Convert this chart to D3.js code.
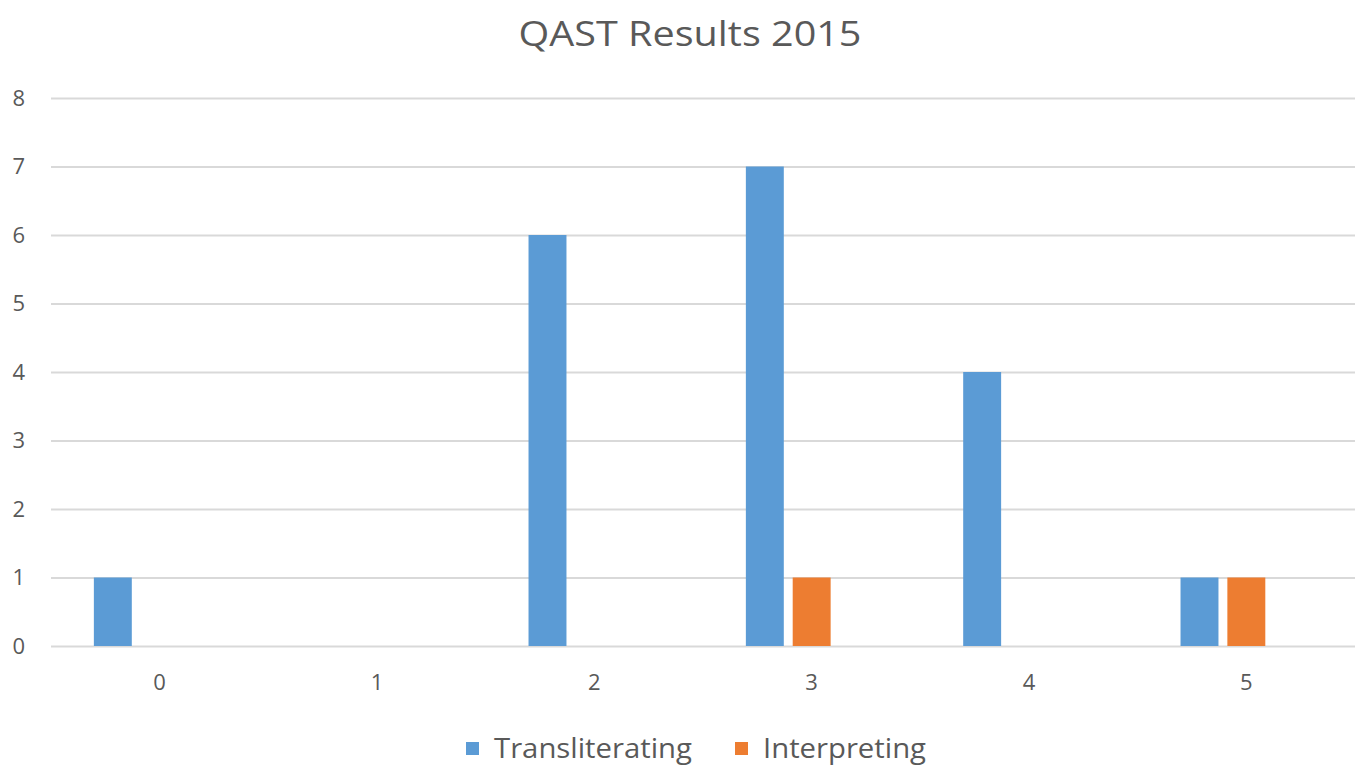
<!DOCTYPE html>
<html>
<head>
<meta charset="utf-8">
<script src="https://cdn.jsdelivr.net/npm/d3@7"></script>
<style>
  body { margin: 0; background: #fff; }
  svg text { font-family: "Open Sans", "Noto Sans", sans-serif; fill: #595959; }
</style>
</head>
<body>
<div id="chart"></div>
<script>
// chart data
const categories = ['0', '1', '2', '3', '4', '5'];
const transliterating = [1, 0, 6, 7, 4, 1];
const interpreting = [0, 0, 0, 1, 0, 1];
const seriesNames = ['Transliterating', 'Interpreting'];
const yTicks = [0, 1, 2, 3, 4, 5, 6, 7, 8];
// Excel reserves a third (empty) slot in each group, so bars sit left of centre
const slots = ['Transliterating', 'Interpreting', 'empty'];

const width = 1357, height = 766;
const colors = { Transliterating: '#5B9BD5', Interpreting: '#ED7D31' };

const svg = d3.select('#chart')
    .append('svg')
    .attr('width', width)
    .attr('height', height);

// plot area
const plotLeft = 51, plotRight = 1355, plotTop = 98, plotBottom = 646;

const x = d3.scaleBand()
    .domain(categories)
    .range([plotLeft, plotRight])
    .padding(0);

const xSub = d3.scaleBand()
    .domain(slots)
    .range([0, x.bandwidth()])
    .paddingInner(0.19)
    .paddingOuter(0.915);

const y = d3.scaleLinear()
    .domain([0, 8])
    .range([plotBottom, plotTop]);

// title
svg.append('text')
    .attr('x', 690)
    .attr('y', 46)
    .attr('text-anchor', 'middle')
    .attr('textLength', 343)
    .attr('lengthAdjust', 'spacingAndGlyphs')
    .style('font-size', '35px')
    .text('QAST Results 2015');

// gridlines + y labels
const yAxis = svg.append('g')
    .attr('transform', `translate(${plotLeft},0)`)
    .call(d3.axisLeft(y).tickValues(yTicks).tickSize(-(plotRight - plotLeft)).tickPadding(26));
yAxis.select('.domain').remove();
yAxis.selectAll('.tick line').attr('stroke', '#D9D9D9').attr('stroke-width', 2);
yAxis.selectAll('.tick text').style('font-size', '22px').attr('fill', '#595959');

// x labels
const xAxis = svg.append('g')
    .attr('transform', `translate(0,${plotBottom})`)
    .call(d3.axisBottom(x).tickSize(0).tickPadding(28));
xAxis.select('.domain').remove();
xAxis.selectAll('.tick text').style('font-size', '22px').attr('fill', '#595959');

// bars
const rows = categories.map((c, i) => ({
    cat: c,
    values: [
        { key: 'Transliterating', value: transliterating[i] },
        { key: 'Interpreting', value: interpreting[i] }
    ]
}));

const groups = svg.append('g')
    .selectAll('g')
    .data(rows)
    .enter()
    .append('g')
    .attr('transform', d => `translate(${x(d.cat)},0)`);

groups.selectAll('rect')
    .data(d => d.values.filter(v => v.value > 0))
    .enter()
    .append('rect')
    .attr('x', d => xSub(d.key))
    .attr('width', xSub.bandwidth())
    .attr('y', d => y(d.value))
    .attr('height', d => y(0) - y(d.value))
    .attr('fill', d => colors[d.key]);

// legend
const legendPos = [466, 735];
const legendWidths = [198, 163];
const legend = svg.append('g')
    .selectAll('g')
    .data(seriesNames)
    .enter()
    .append('g')
    .attr('transform', (d, i) => `translate(${legendPos[i]},742)`);

legend.append('rect')
    .attr('width', 13)
    .attr('height', 13)
    .attr('fill', d => colors[d]);

legend.append('text')
    .attr('x', 28)
    .attr('y', 16)
    .attr('textLength', (d, i) => legendWidths[i])
    .attr('lengthAdjust', 'spacingAndGlyphs')
    .style('font-size', '27px')
    .text(d => d);
</script>
</body>
</html>
